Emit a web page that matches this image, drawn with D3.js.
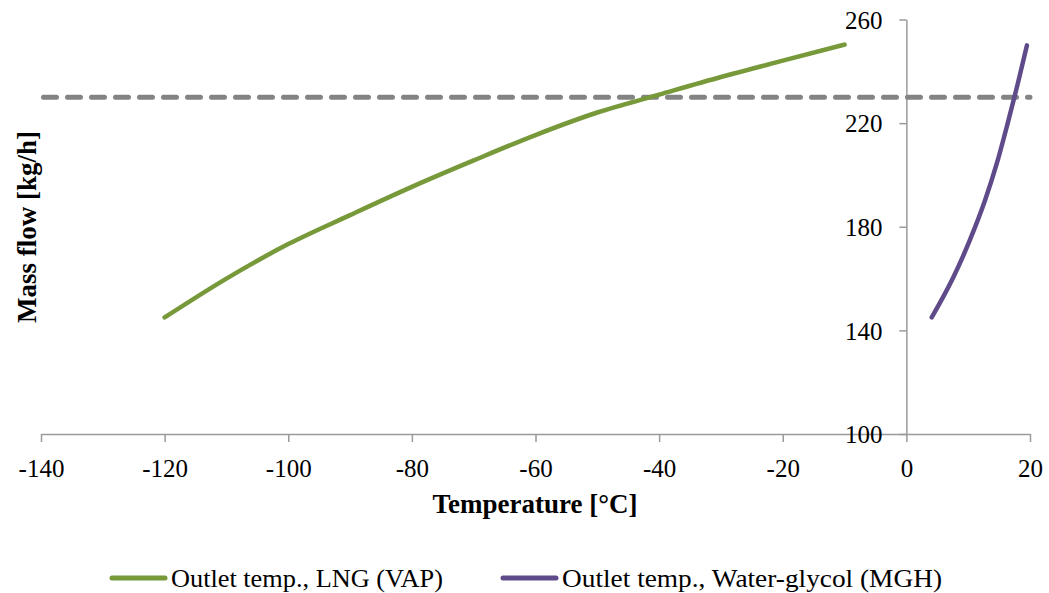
<!doctype html>
<html>
<head>
  <script src="https://d3js.org/d3.v7.min.js"></script>
  <style>
    body { margin: 0; background: #fff; }
    text { font-family: "Liberation Serif", "Times New Roman", serif; fill: #000; }
  </style>
</head>
<body>
<svg width="1049" height="593"></svg>
<script>
  // LNG (VAP) outlet temperature vs mass flow
  var lngTemp = [-120, -110, -100, -90, -80, -70, -60, -50, -40, -30, -20, -10];
  var lngFlow = [145, 160, 173.3, 184.5, 195.4, 205.6, 215.4, 224.1, 231, 237.8, 244.1, 250.3];

  // Water-glycol (MGH) outlet temperature vs mass flow
  var mghTemp = [4.1, 7.5, 10.3, 12.7, 14.7, 16.4, 18.0, 19.5];
  var mghFlow = [145, 160, 175, 190, 205, 220, 235, 250];

  var limitFlow = 230;

  var xTicks = [-140, -120, -100, -80, -60, -40, -20, 0, 20];
  var yTicks = [100, 140, 180, 220, 260];

  var seriesNames = ["Outlet temp., LNG (VAP)", "Outlet temp., Water-glycol (MGH)"];
  var seriesColors = ["#77993a", "#5f4b89"];

  var svg = d3.select("svg");

  var x = d3.scaleLinear().domain([-140, 20]).range([41, 1030]);
  var y = d3.scaleLinear().domain([100, 260]).range([434, 19.5]);

  var axisColor = "#9a9a9a";

  // x axis
  var gx = svg.append("g")
    .attr("transform", "translate(0," + y(100) + ")")
    .call(d3.axisBottom(x).tickValues(xTicks).tickSizeInner(8).tickSizeOuter(0)
      .tickPadding(17).tickFormat(function (d) { return String(d); }));

  // y axis sits at x = 0
  var gy = svg.append("g")
    .attr("transform", "translate(" + x(0) + ",0)")
    .call(d3.axisLeft(y).tickValues(yTicks).tickSizeInner(7).tickSizeOuter(0)
      .tickPadding(17).tickFormat(function (d) { return String(d); }));

  [gx, gy].forEach(function (g) {
    g.selectAll("path, line").attr("stroke", axisColor).attr("stroke-width", 1.5);
    g.selectAll("text").style("font-size", "25px").style("font-family", "Liberation Serif").attr("fill", "#000");
  });
  gy.selectAll("text").attr("dy", "0.35em");

  // dashed limit line
  svg.append("line")
    .attr("x1", x(-140) + 2.5).attr("x2", x(20))
    .attr("y1", y(limitFlow)).attr("y2", y(limitFlow))
    .attr("stroke", "#838383")
    .attr("stroke-width", 5)
    .attr("stroke-linecap", "round")
    .attr("stroke-dasharray", "13,11");

  var line = d3.line()
    .x(function (d) { return x(d[0]); })
    .y(function (d) { return y(d[1]); })
    .curve(d3.curveMonotoneX);

  var series = [
    d3.zip(lngTemp, lngFlow),
    d3.zip(mghTemp, mghFlow)
  ];

  svg.append("g").selectAll("path")
    .data(series)
    .enter()
    .append("path")
    .attr("d", line)
    .attr("fill", "none")
    .attr("stroke", function (d, i) { return seriesColors[i]; })
    .attr("stroke-width", 4.5)
    .attr("stroke-linecap", "round")
    .attr("stroke-linejoin", "round");

  // axis titles
  svg.append("text")
    .attr("x", 535).attr("y", 513)
    .attr("text-anchor", "middle")
    .style("font-size", "27px").style("font-weight", "bold")
    .text("Temperature [°C]");

  svg.append("text")
    .attr("transform", "translate(36,227) rotate(-90)")
    .attr("text-anchor", "middle")
    .style("font-size", "27px").style("font-weight", "bold")
    .text("Mass flow [kg/h]");

  // legend
  var legendX = [112, 503];
  var legendW = [272, 380];
  var leg = svg.append("g").selectAll("g")
    .data(seriesNames)
    .enter()
    .append("g")
    .attr("transform", function (d, i) { return "translate(" + legendX[i] + ",578)"; });

  leg.append("line")
    .attr("x1", 0).attr("x2", 53)
    .attr("stroke", function (d, i) { return seriesColors[i]; })
    .attr("stroke-width", 5)
    .attr("stroke-linecap", "round");

  leg.append("text")
    .attr("x", 59).attr("y", 9)
    .attr("textLength", function (d, i) { return legendW[i]; })
    .attr("lengthAdjust", "spacingAndGlyphs")
    .style("font-size", "26px")
    .text(function (d) { return d; });
</script>
</body>
</html>
